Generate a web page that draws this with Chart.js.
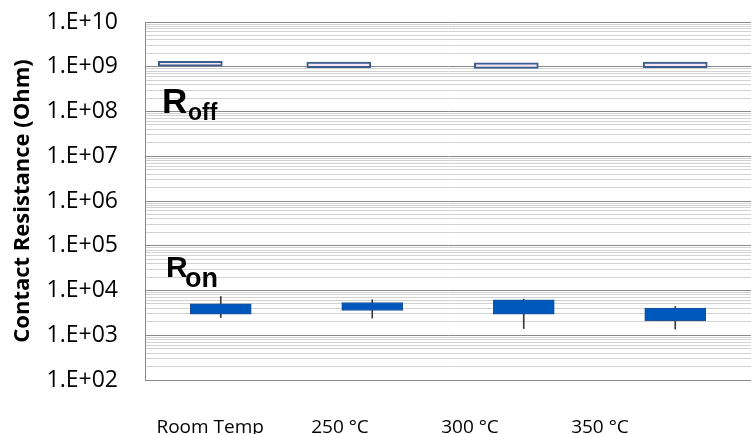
<!DOCTYPE html>
<html>
<head>
<meta charset="utf-8">
<script src="https://cdn.jsdelivr.net/npm/chart.js@4.4.0/dist/chart.umd.min.js"></script>
<style>
  html, body { margin: 0; padding: 0; background: #fff; }
  #wrap { width: 751px; height: 434px; }
</style>
</head>
<body>
<div id="wrap"><canvas id="grafico"></canvas></div>
<script>
const categorias = ['Room Temp', '250 °C', '300 °C', '350 °C'];
const posLabels = [0.43, 1.287, 2.145, 3.003];
const posRoff = [0.299, 1.279, 2.385, 3.50];
const posRon = [0.5, 1.5, 2.5, 3.5];

const roffBaixo = [1.03e9, 0.95e9, 0.92e9, 0.95e9];
const roffAlto = [1.33e9, 1.27e9, 1.23e9, 1.27e9];

const ronBaixo = [2970, 3570, 2970, 2130];
const ronAlto = [5040, 5390, 6190, 4040];
const ronMin = [2490, 2420, 1410, 1370];
const ronMax = [7350, 6190, 6420, 4390];

const decadas = [1e2, 1e3, 1e4, 1e5, 1e6, 1e7, 1e8, 1e9, 1e10];

// ticks do eixo log: decadas + 2..9
const ticksY = [];
decadas.forEach((d, i) => {
    ticksY.push(d);
    if (i < decadas.length - 1) {
        for (let k = 2; k <= 9; k++) ticksY.push(d * k);
    }
});

const ehDecada = (v) => Math.abs(Math.log10(v) - Math.round(Math.log10(v))) < 1e-9;

const dataBox = {
    datasets: [
        {
            label: 'Ron whisker',
            data: posRon.map((x, i) => ({ x: x, y: [ronMin[i], ronMax[i]] })),
            backgroundColor: '#3a3a3a',
            borderWidth: 0,
            barThickness: 1,
            grouped: false,
            order: 3,
        },
        {
            label: 'Ron',
            data: posRon.map((x, i) => ({ x: x, y: [ronBaixo[i], ronAlto[i]] })),
            backgroundColor: '#0058bd',
            borderColor: '#1f4f8f',
            borderWidth: 1,
            borderSkipped: false,
            barThickness: 61,
            grouped: false,
            order: 1,
        },
        {
            label: 'Roff',
            data: posRoff.map((x, i) => ({ x: x, y: [roffBaixo[i], roffAlto[i]] })),
            backgroundColor: '#f7e6f3',
            borderColor: '#3b5e8c',
            borderWidth: 2,
            borderSkipped: false,
            barThickness: 64,
            grouped: false,
            order: 1,
        }
    ]
};

// textos R_off e R_on
const textosR = {
    id: 'textosR',
    afterDatasetsDraw(chart) {
        const ctx = chart.ctx;
        ctx.save();
        ctx.fillStyle = '#000';
        ctx.textBaseline = 'alphabetic';
        ctx.textAlign = 'left';
        ctx.font = 'bold 35px "Liberation Sans", Arial, sans-serif';
        ctx.fillText('R', 162, 113);
        ctx.font = 'bold 23px "Liberation Sans", Arial, sans-serif';
        ctx.fillText('off', 188, 120);
        ctx.font = 'bold 30px "Liberation Sans", Arial, sans-serif';
        ctx.fillText('R', 166, 277);
        ctx.font = 'bold 27px "Liberation Sans", Arial, sans-serif';
        ctx.fillText('on', 185, 287);
        ctx.restore();
    }
};

const configBox = {
    type: 'bar',
    data: dataBox,
    options: {
        responsive: true,
        maintainAspectRatio: false,
        animation: false,
        layout: { padding: { top: 22, right: 0, bottom: 0, left: 0 } },
        plugins: {
            legend: { display: false },
            tooltip: { enabled: false },
        },
        scales: {
            x: {
                type: 'linear',
                min: 0,
                max: 4,
                offset: false,
                grid: { display: false, offset: false },
                border: { display: true, color: '#8a8a8a' },
                afterBuildTicks: (scale) => {
                    scale.ticks = posLabels.map(v => ({ value: v }));
                },
                afterFit: (scale) => { scale.height = 54; },
                ticks: {
                    autoSkip: false,
                    maxRotation: 0,
                    padding: 28,
                    color: '#000',
                    font: { family: '"Open Sans", sans-serif', size: 19 },
                    callback: (value, index) => categorias[index],
                },
            },
            y: {
                type: 'logarithmic',
                min: 1e2,
                max: 1e10,
                stacked: false,
                afterBuildTicks: (scale) => {
                    scale.ticks = ticksY.map(v => ({ value: v }));
                },
                afterFit: (scale) => {
                    scale.width = 145;
                    scale.paddingTop = 0;
                    scale.paddingBottom = 0;
                },
                grid: {
                    drawTicks: false,
                    color: (ctx) => (ctx.tick && ehDecada(ctx.tick.value)) ? '#8a8a8a' : '#d2d2d2',
                    lineWidth: 1,
                },
                border: { display: true, color: '#8a8a8a' },
                ticks: {
                    autoSkip: false,
                    padding: 27,
                    color: '#000',
                    font: { family: '"Open Sans", sans-serif', size: 23 },
                    callback: (value) => {
                        if (!ehDecada(value)) return '';
                        const exp = Math.round(Math.log10(value));
                        return '1.E+' + String(exp).padStart(2, '0');
                    },
                },
                title: {
                    display: true,
                    text: 'Contact Resistance (Ohm)',
                    color: '#000',
                    padding: { top: 10, bottom: 0 },
                    font: { family: '"Open Sans", sans-serif', size: 22, weight: 'bold' },
                },
            },
        },
    },
    plugins: [textosR],
};

const ctxBox = document.getElementById('grafico').getContext('2d');
const boxChart = new Chart(ctxBox, configBox);
</script>
</body>
</html>
